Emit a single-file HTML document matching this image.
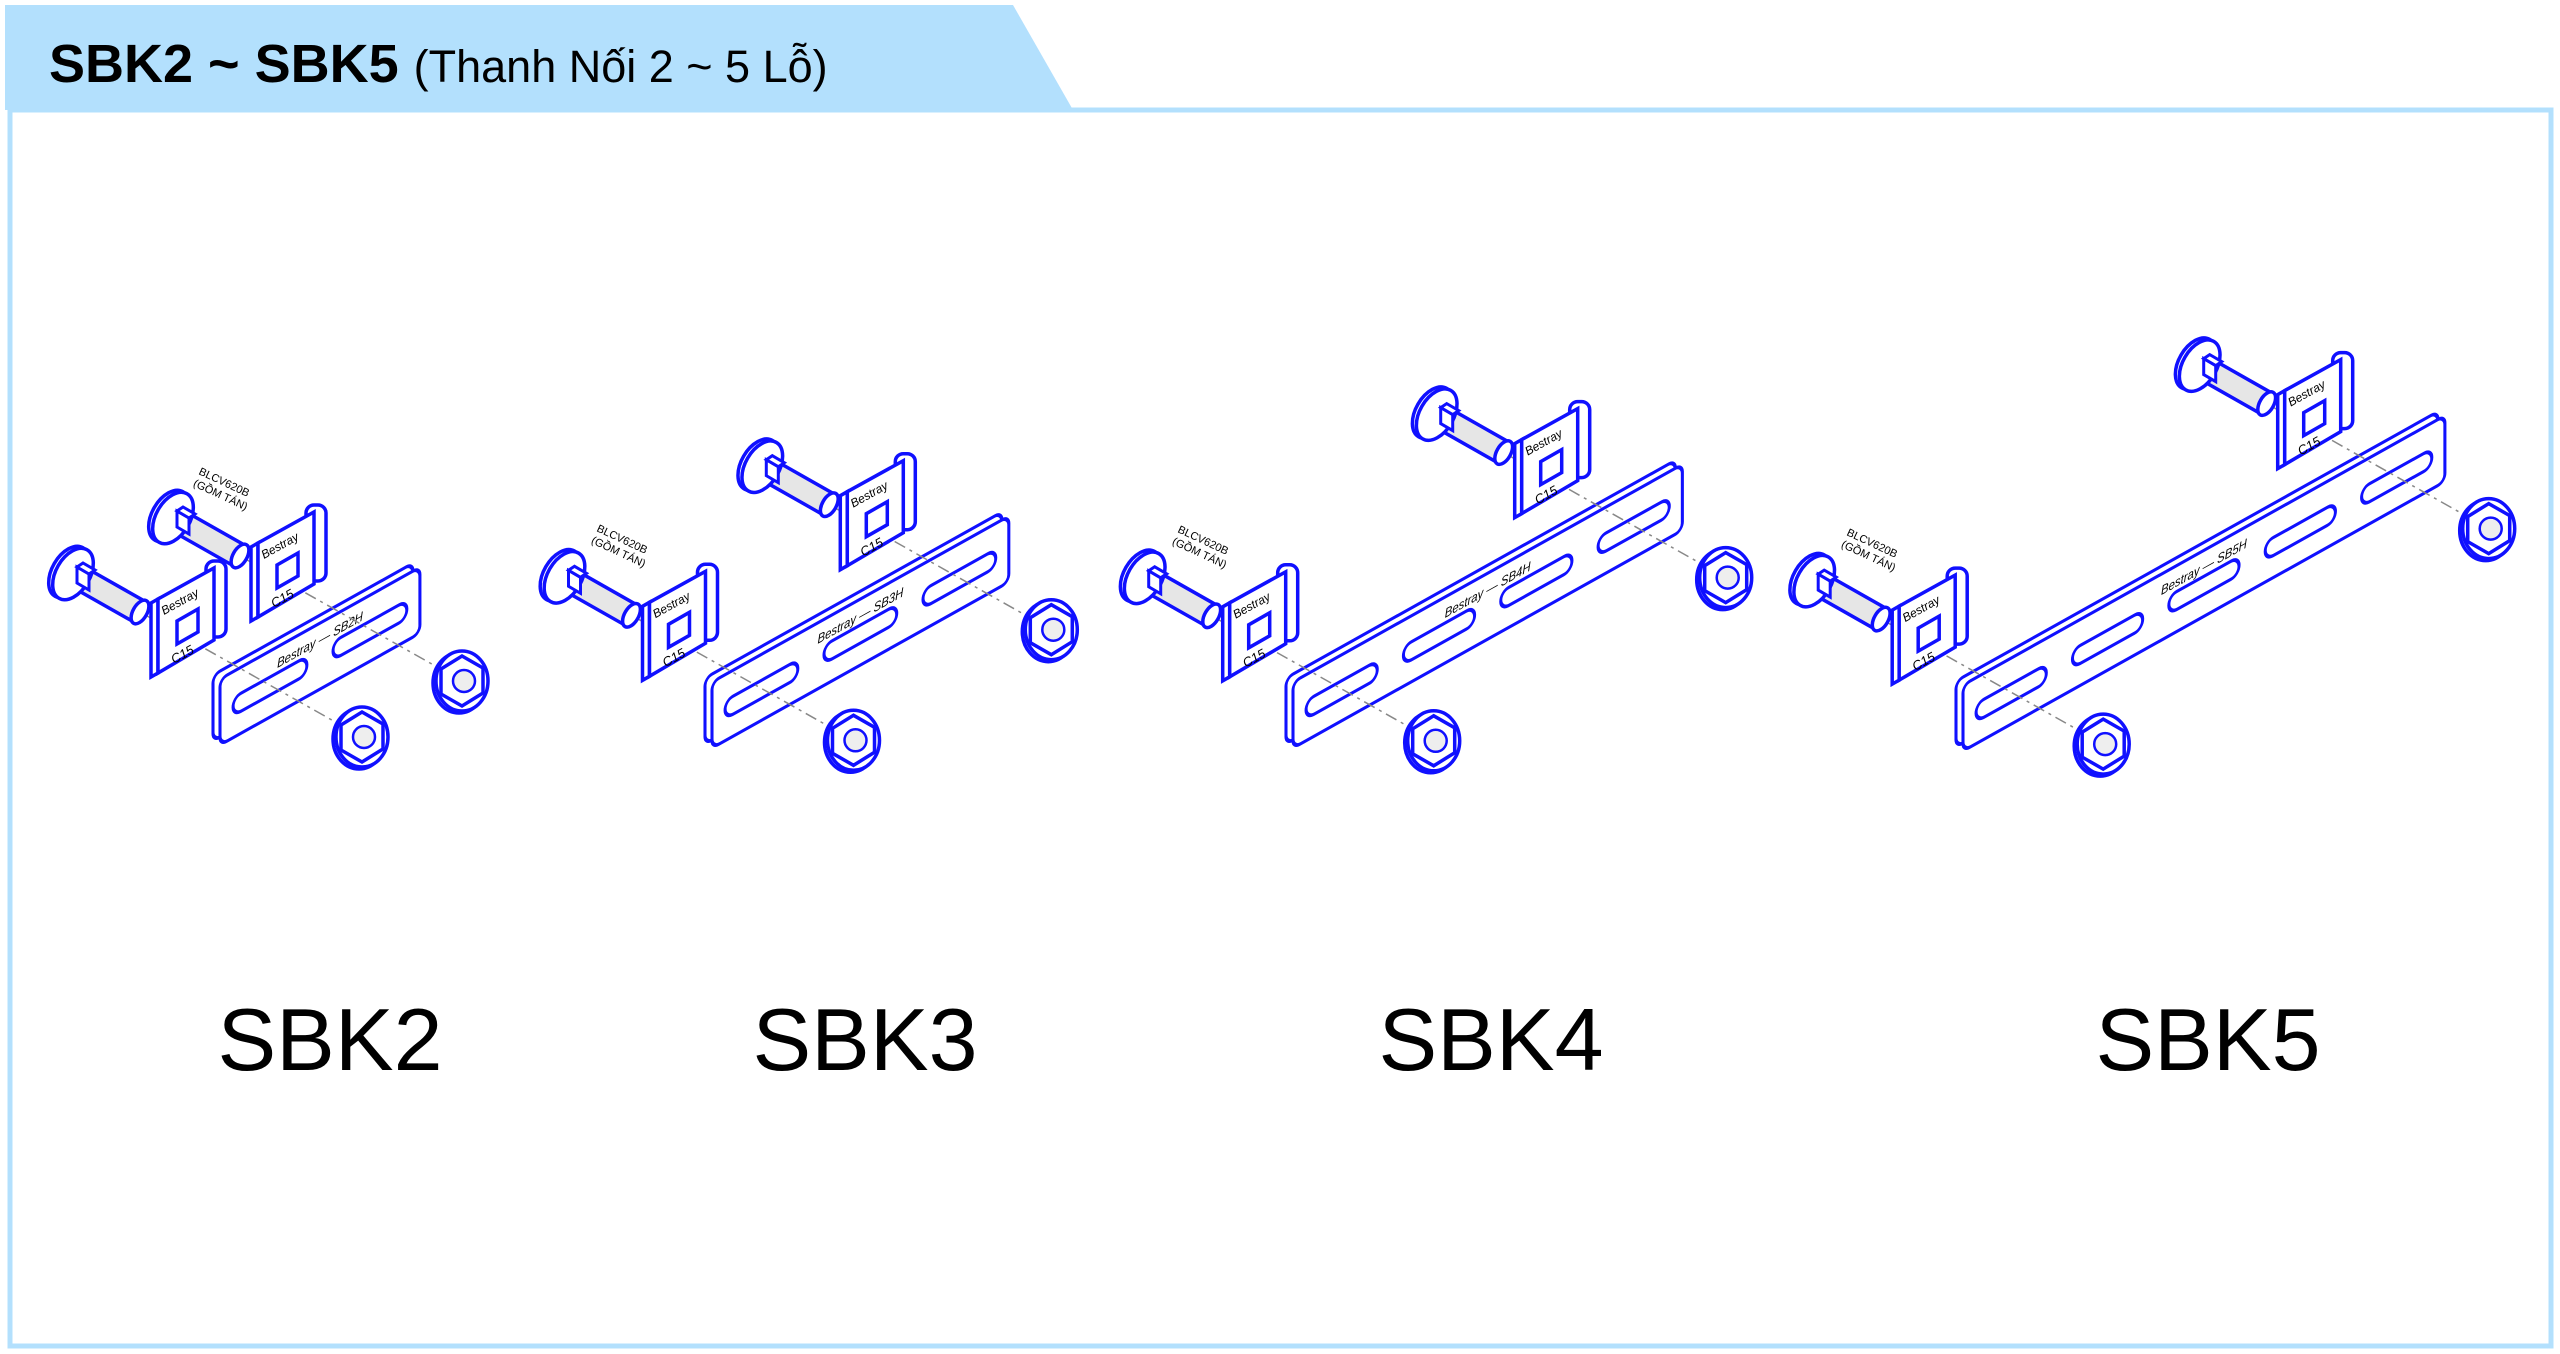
<!DOCTYPE html>
<html><head><meta charset="utf-8"><style>
html,body{margin:0;padding:0;background:#fff;}
svg{display:block;}
</style></head><body>
<svg width="2560" height="1354" viewBox="0 0 2560 1354" xmlns="http://www.w3.org/2000/svg" font-family="Liberation Sans, Arial, sans-serif">
<defs>
<g id="set">
  <path d="M-130,-75 L92,50" stroke="#888" stroke-width="1.5" stroke-dasharray="12 5 3 5" fill="none"/>
  <!-- bolt -->
  <line x1="-190" y1="-109" x2="-130" y2="-75" stroke="#1010ff" stroke-width="27"/>
  <line x1="-190" y1="-109" x2="-131" y2="-75.5" stroke="#e6e6e6" stroke-width="20"/>
  <ellipse cx="-130" cy="-75" rx="7" ry="13" transform="rotate(30 -130 -75)" fill="#fff" stroke="#1010ff" stroke-width="3.5"/>
  <ellipse cx="-201" cy="-115" rx="17" ry="28" transform="rotate(30 -201 -115)" fill="#fff" stroke="#1010ff" stroke-width="3.5"/>
  <ellipse cx="-197" cy="-113" rx="17" ry="28" transform="rotate(30 -197 -113)" fill="#fff" stroke="#1010ff" stroke-width="3.5"/>
  <polygon points="-193,-120 -181,-113 -181,-97 -193,-104" fill="#fff" stroke="#1010ff" stroke-width="3"/>
  <polygon points="-193,-120 -187,-124 -175,-117 -181,-113" fill="#fff" stroke="#1010ff" stroke-width="3"/>
  <!-- clip -->
  <rect x="-64" y="-126" width="20" height="76" rx="8" fill="#fff" stroke="#1010ff" stroke-width="3.5"/>
  <path d="M-119,-84 L-112,-88 L-112,-14 L-119,-10 Z" fill="#fff" stroke="#1010ff" stroke-width="3.5"/>
  <path d="M-112,-88 L-56,-119 L-56,-47 L-112,-14 Z" fill="#fff" stroke="#1010ff" stroke-width="3.5"/>
  <polygon points="-93,-43 -93,-66 -72,-78 -72,-55" fill="#fff" stroke="#1010ff" stroke-width="3.5"/>
  <text x="-106" y="-72" font-size="12" font-style="italic" transform="rotate(-29 -106 -72)" fill="#000">Bestray</text>
  <text x="-96" y="-23" font-size="13" font-style="italic" transform="rotate(-29 -96 -23)" fill="#000">C15</text>
  <!-- nut -->
  <ellipse cx="89" cy="52" rx="26" ry="30" fill="#fff" stroke="#1010ff" stroke-width="3.5"/>
  <ellipse cx="92" cy="50" rx="26" ry="30" fill="#fff" stroke="#1010ff" stroke-width="3.5"/>
  <polygon points="92,25 113,37 113,62 92,75 71,63 71,38" fill="#fff" stroke="#1010ff" stroke-width="3.5"/>
  <circle cx="94" cy="50" r="11" fill="#eee" stroke="#1010ff" stroke-width="2.5"/>
</g>
</defs>

<!-- header -->
<polygon points="5,5 1013,5 1073,110 5,110" fill="#b3e0fd"/>
<rect x="10" y="110" width="2541" height="1236" fill="none" stroke="#b3e0fd" stroke-width="5"/>
<text x="49" y="82" font-size="54" font-weight="bold" fill="#000">SBK2 ~ SBK5 <tspan font-weight="normal" font-size="45">(Thanh Nối 2 ~ 5 Lỗ)</tspan></text>

<!-- SBK2 -->
<g transform="matrix(0.873,-0.488,0,1,213,741)"><rect x="0" y="-66" width="229" height="66" rx="8" fill="#fff" stroke="#1010ff" stroke-width="3.5"/></g>
<g transform="matrix(0.873,-0.488,0,1,220,745)"><rect x="0" y="-66" width="229" height="66" rx="8" fill="#fff" stroke="#1010ff" stroke-width="3.5"/>
<rect x="15" y="-40" width="84.5" height="18" rx="9" fill="#fff" stroke="#1010ff" stroke-width="3.5"/>
<rect x="129.5" y="-40" width="84.5" height="18" rx="9" fill="#fff" stroke="#1010ff" stroke-width="3.5"/>
<text x="114.5" y="-45" font-size="13" font-style="italic" text-anchor="middle">Bestray — SB2H</text></g>
<use href="#set" transform="translate(270,687)"/>
<use href="#set" transform="translate(370,631)"/>
<text font-size="11" transform="translate(198,474) rotate(25)"><tspan x="0" y="0">BLCV620B</tspan><tspan x="0" y="13">(GỒM TÁN)</tspan></text>

<!-- SBK3 -->
<g transform="matrix(0.873,-0.488,0,1,705,744)"><rect x="0" y="-66" width="340" height="66" rx="8" fill="#fff" stroke="#1010ff" stroke-width="3.5"/></g>
<g transform="matrix(0.873,-0.488,0,1,712,748)"><rect x="0" y="-66" width="340" height="66" rx="8" fill="#fff" stroke="#1010ff" stroke-width="3.5"/>
<rect x="15" y="-40" width="83.3" height="18" rx="9" fill="#fff" stroke="#1010ff" stroke-width="3.5"/>
<rect x="128.3" y="-40" width="83.3" height="18" rx="9" fill="#fff" stroke="#1010ff" stroke-width="3.5"/>
<rect x="241.7" y="-40" width="83.3" height="18" rx="9" fill="#fff" stroke="#1010ff" stroke-width="3.5"/>
<text x="170" y="-45" font-size="13" font-style="italic" text-anchor="middle">Bestray — SB3H</text></g>
<use href="#set" transform="translate(761.5,690.3)"/>
<use href="#set" transform="translate(959.3,579.7)"/>
<text font-size="11" transform="translate(596,531) rotate(25)"><tspan x="0" y="0">BLCV620B</tspan><tspan x="0" y="13">(GỒM TÁN)</tspan></text>

<!-- SBK4 -->
<g transform="matrix(0.873,-0.488,0,1,1286,744)"><rect x="0" y="-66" width="446" height="66" rx="8" fill="#fff" stroke="#1010ff" stroke-width="3.5"/></g>
<g transform="matrix(0.873,-0.488,0,1,1293,748)"><rect x="0" y="-66" width="446" height="66" rx="8" fill="#fff" stroke="#1010ff" stroke-width="3.5"/>
<rect x="15" y="-40" width="81.5" height="18" rx="9" fill="#fff" stroke="#1010ff" stroke-width="3.5"/>
<rect x="126.5" y="-40" width="81.5" height="18" rx="9" fill="#fff" stroke="#1010ff" stroke-width="3.5"/>
<rect x="238" y="-40" width="81.5" height="18" rx="9" fill="#fff" stroke="#1010ff" stroke-width="3.5"/>
<rect x="349.5" y="-40" width="81.5" height="18" rx="9" fill="#fff" stroke="#1010ff" stroke-width="3.5"/>
<text x="223" y="-45" font-size="13" font-style="italic" text-anchor="middle">Bestray — SB4H</text></g>
<use href="#set" transform="translate(1341.7,690.8)"/>
<use href="#set" transform="translate(1633.7,527.6)"/>
<text font-size="11" transform="translate(1177,532) rotate(25)"><tspan x="0" y="0">BLCV620B</tspan><tspan x="0" y="13">(GỒM TÁN)</tspan></text>

<!-- SBK5 -->
<g transform="matrix(0.873,-0.488,0,1,1956,747)"><rect x="0" y="-66" width="552" height="66" rx="8" fill="#fff" stroke="#1010ff" stroke-width="3.5"/></g>
<g transform="matrix(0.873,-0.488,0,1,1963,751)"><rect x="0" y="-66" width="552" height="66" rx="8" fill="#fff" stroke="#1010ff" stroke-width="3.5"/>
<rect x="15" y="-40" width="80.4" height="18" rx="9" fill="#fff" stroke="#1010ff" stroke-width="3.5"/>
<rect x="125.4" y="-40" width="80.4" height="18" rx="9" fill="#fff" stroke="#1010ff" stroke-width="3.5"/>
<rect x="235.8" y="-40" width="80.4" height="18" rx="9" fill="#fff" stroke="#1010ff" stroke-width="3.5"/>
<rect x="346.2" y="-40" width="80.4" height="18" rx="9" fill="#fff" stroke="#1010ff" stroke-width="3.5"/>
<rect x="456.6" y="-40" width="80.4" height="18" rx="9" fill="#fff" stroke="#1010ff" stroke-width="3.5"/>
<text x="276" y="-45" font-size="13" font-style="italic" text-anchor="middle">Bestray — SB5H</text></g>
<use href="#set" transform="translate(2011.2,694.1)"/>
<use href="#set" transform="translate(2396.7,478.6)"/>
<text font-size="11" transform="translate(1846,535) rotate(25)"><tspan x="0" y="0">BLCV620B</tspan><tspan x="0" y="13">(GỒM TÁN)</tspan></text>

<!-- labels -->
<g font-size="88" fill="#000" text-anchor="middle">
<text x="330" y="1070">SBK2</text>
<text x="865" y="1070">SBK3</text>
<text x="1491" y="1070">SBK4</text>
<text x="2208" y="1070">SBK5</text>
</g>
</svg>
</body></html>
